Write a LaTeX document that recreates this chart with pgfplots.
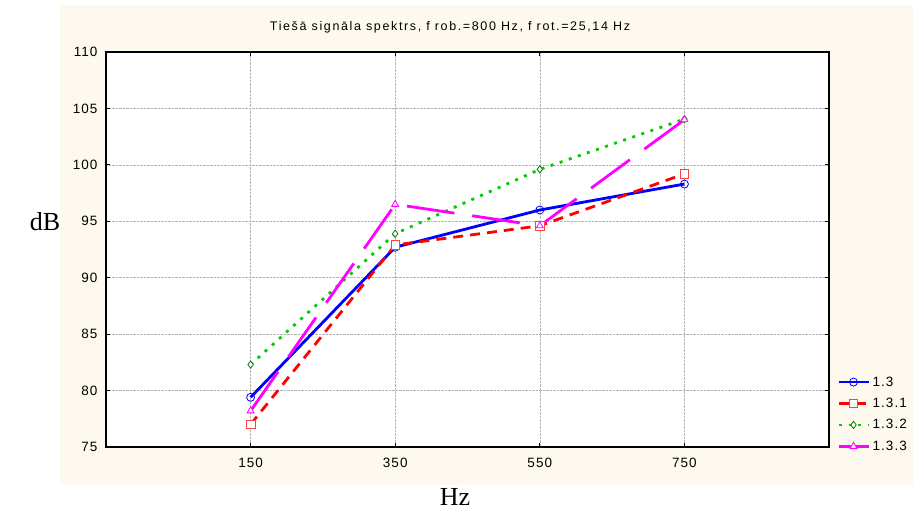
\documentclass[border=0pt]{standalone}
\usepackage{fontspec}
\setmainfont{Liberation Sans}
\newfontfamily\timesfont{Liberation Serif}
\usepackage{pgfplots}
\pgfplotsset{compat=1.18}
\definecolor{cream}{RGB}{253,249,239}
\definecolor{mygreen}{RGB}{0,204,0}
\definecolor{dkgreen}{RGB}{0,128,0}
\definecolor{mymag}{RGB}{255,0,255}
\begin{document}
\begin{tikzpicture}[x=1pt,y=1pt]
\path[use as bounding box] (0,0) rectangle (913,515);
\fill[cream] (60,30) rectangle (913,510);
\begin{axis}[at={(106pt,68pt)}, anchor=south west, scale only axis,
  width=723pt, height=395pt,
  xmin=-50, xmax=950, ymin=75, ymax=110,
  xtick={150,350,550,750}, ytick={75,80,...,110},
  xticklabels={150,350,550,750},
  yticklabels={75,80,85,90,95,100,105,110},
  grid=major, major grid style={densely dotted, black!30, line width=0.6pt},
  axis line style={line width=1.6pt},
  tick align=inside, major tick length=4pt, tick style={black, line width=0.8pt},
  ticklabel style={font=\fontsize{13.5}{15}\selectfont\addfontfeatures{LetterSpace=8}},
  axis background/.style={fill=white},
  xticklabel style={yshift=-8pt}, yticklabel style={xshift=-5pt},
  legend cell align=left,
  legend style={at={(axis description cs:1.012,0.083)}, anchor=west, draw=none, fill=none,
    font=\fontsize{13.5}{15}\selectfont\addfontfeatures{LetterSpace=8}, inner xsep=0pt, row sep=6.5pt},
  legend image code/.code={\draw[mark repeat=2,mark phase=2] plot coordinates {(0cm,0cm) (0.5cm,0cm) (1.05cm,0cm)};},
]
\addplot[blue, line width=2.8pt, mark=o, mark size=4pt, mark options={solid, fill=white, draw=blue, line width=0.8pt}]
  coordinates {(150,79.4) (350,92.7) (550,96.0) (750,98.3)};
\addlegendentry{1.3}
\addplot[red, line width=2.8pt, dash pattern=on 10pt off 7pt, mark=square*, mark size=4.3pt, mark options={solid, fill=white, draw=red!75, line width=0.8pt}]
  coordinates {(150,77.0) (350,92.9) (550,94.6) (750,99.2)};
\addlegendentry{1.3.1}
\addplot[mygreen, line width=2.8pt, dash pattern=on 3pt off 6.6pt, mark=diamond*, mark size=3.6pt, mark options={solid, fill=white, draw=dkgreen, line width=0.8pt}]
  coordinates {(150,82.3) (350,93.9) (550,99.6) (750,104.05)};
\addlegendentry{1.3.2}
\addplot[mymag, line width=2.8pt, dash pattern=on 48pt off 18pt, mark=triangle*, mark size=4pt, mark options={solid, fill=white, draw=mymag, line width=0.8pt}]
  coordinates {(150,78.2) (350,96.5) (550,94.6) (750,104.0)};
\addlegendentry{1.3.3}
\end{axis}
\node[font=\fontsize{12.5}{14}\selectfont\addfontfeatures{LetterSpace=13}] at (450,488) {Tiešā signāla spektrs, f rob.=800 Hz, f rot.=25,14 Hz};
\node[font=\timesfont\fontsize{26}{30}\selectfont] at (45,293) {dB};
\node[font=\timesfont\fontsize{26}{30}\selectfont] at (455,18) {Hz};
\end{tikzpicture}
\end{document}
